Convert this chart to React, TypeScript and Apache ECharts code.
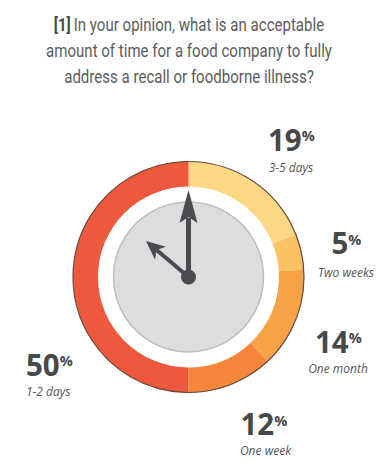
import React, { useEffect, useRef } from "react";
import * as echarts from "echarts";

const categories = ["3-5 days", "Two weeks", "One month", "One week", "1-2 days"];
const values = [19, 5, 14, 12, 50];
const colors = ["#FDD884", "#FBC263", "#F6A247", "#F4853A", "#EE583C"];
const titleLines = [
  "In your opinion, what is an acceptable",
  "amount of time for a food company to fully",
  "address a recall or foodborne illness?",
];
const titleTag = "[1]";

// label layout: left x of number, vertical centre of number, subtitle centre y, subtitle anchor x & align
const labelLayout = [
  { x: 268, y: 139, sy: 167, sx: 291, sa: "center" },
  { x: 331.5, y: 242.5, sy: 272, sx: 346, sa: "center" },
  { x: 315, y: 341, sy: 368.5, sx: 338, sa: "center" },
  { x: 240.5, y: 423.5, sy: 450, sx: 265.5, sa: "center" },
  { x: 26, y: 364, sy: 391.5, sx: 26, sa: "left" },
];

const CX = 188.5;
const CY = 277;
const DARK = "#4a4b4f";

export default function App() {
  const ref = useRef<HTMLDivElement>(null);
  useEffect(() => {
    const chart = echarts.init(ref.current!, null, { renderer: "svg" });
    const graphics: any[] = [];
    // title
    titleLines.forEach((line, i) => {
      graphics.push({
        type: "text",
        x: 189,
        y: 25 + i * 26,
        scaleX: 0.86,
        style: {
          text: i === 0 ? `{b|${titleTag}} {r|${line}}` : `{r|${line}}`,
          align: "center",
          verticalAlign: "middle",
          rich: {
            b: { fontFamily: "Roboto", fontSize: 17.5, fontWeight: "bold", fill: "#4a4a4a" },
            r: { fontFamily: "Roboto", fontSize: 17.5, fill: "#5c5c5c" },
          },
        },
      });
    });
    // gray clock face
    graphics.push({
      type: "circle",
      shape: { cx: CX, cy: CY, r: 75 },
      style: { fill: "#DCDDDF", stroke: "#BDBDBD", lineWidth: 1.5 },
      z: 1,
    });
    // outer dark border
    graphics.push({
      type: "circle",
      shape: { cx: CX, cy: CY, r: 115.5 },
      style: { fill: "none", stroke: "#6a4a3c", lineWidth: 1.2 },
      z: 10,
    });
    // minute hand
    graphics.push({
      type: "line",
      shape: { x1: CX, y1: CY, x2: CX, y2: 218 },
      style: { stroke: DARK, lineWidth: 5 },
      z: 5,
    });
    graphics.push({
      type: "polygon",
      shape: { points: [[CX, 190], [179.5, 223], [CX, 217], [197.5, 223]] },
      style: { fill: DARK },
      z: 5,
    });
    // hour hand
    const tip = [146, 241];
    const dx = tip[0] - CX, dy = tip[1] - CY;
    const len = Math.sqrt(dx * dx + dy * dy);
    const ux = dx / len, uy = dy / len;
    const px = -uy, py = ux;
    const headLen = 19, half = 8.5, notch = 14;
    const bx = tip[0] - ux * headLen, by = tip[1] - uy * headLen;
    const nx = tip[0] - ux * notch, ny = tip[1] - uy * notch;
    graphics.push({
      type: "line",
      shape: { x1: CX, y1: CY, x2: nx, y2: ny },
      style: { stroke: DARK, lineWidth: 4 },
      z: 5,
    });
    graphics.push({
      type: "polygon",
      shape: {
        points: [tip, [bx + px * half, by + py * half], [nx, ny], [bx - px * half, by - py * half]],
      },
      style: { fill: DARK },
      z: 5,
    });
    graphics.push({
      type: "circle",
      shape: { cx: CX, cy: CY, r: 7.5 },
      style: { fill: DARK },
      z: 6,
    });
    // labels
    values.forEach((v, i) => {
      const L = labelLayout[i];
      graphics.push({
        type: "text",
        x: L.x,
        y: L.y,
        style: {
          text: `{n|${v}}{p|%}`,
          align: "left",
          verticalAlign: "middle",
          rich: {
            n: { fontFamily: "Open Sans", fontWeight: "bold", fontSize: 29.5, fill: "#484848", lineHeight: 22, verticalAlign: "middle" },
            p: { fontFamily: "Open Sans", fontWeight: "bold", fontSize: 14.5, fill: "#484848", lineHeight: 15, verticalAlign: "top" },
          },
        },
      });
      graphics.push({
        type: "text",
        x: L.sx,
        y: L.sy,
        style: {
          text: categories[i],
          align: L.sa,
          verticalAlign: "middle",
          fontFamily: "Open Sans",
          fontStyle: "italic",
          fontSize: 12,
          lineHeight: 14,
          fill: "#555555",
        },
      });
    });

    chart.setOption({
      animation: false,
      series: [
        {
          type: "pie",
          center: [CX, CY],
          radius: [90.5, 115.5],
          startAngle: 90,
          clockwise: true,
          silent: true,
          label: { show: false },
          labelLine: { show: false },
          itemStyle: { borderWidth: 0 },
          data: values.map((v, i) => ({ value: v, name: categories[i], itemStyle: { color: colors[i] } })),
        },
      ],
      graphic: graphics,
    });
    return () => chart.dispose();
  }, []);
  return <div ref={ref} style={{ position: "fixed", left: 0, top: 0, width: 378, height: 464, background: "#fff" }} />;
}
